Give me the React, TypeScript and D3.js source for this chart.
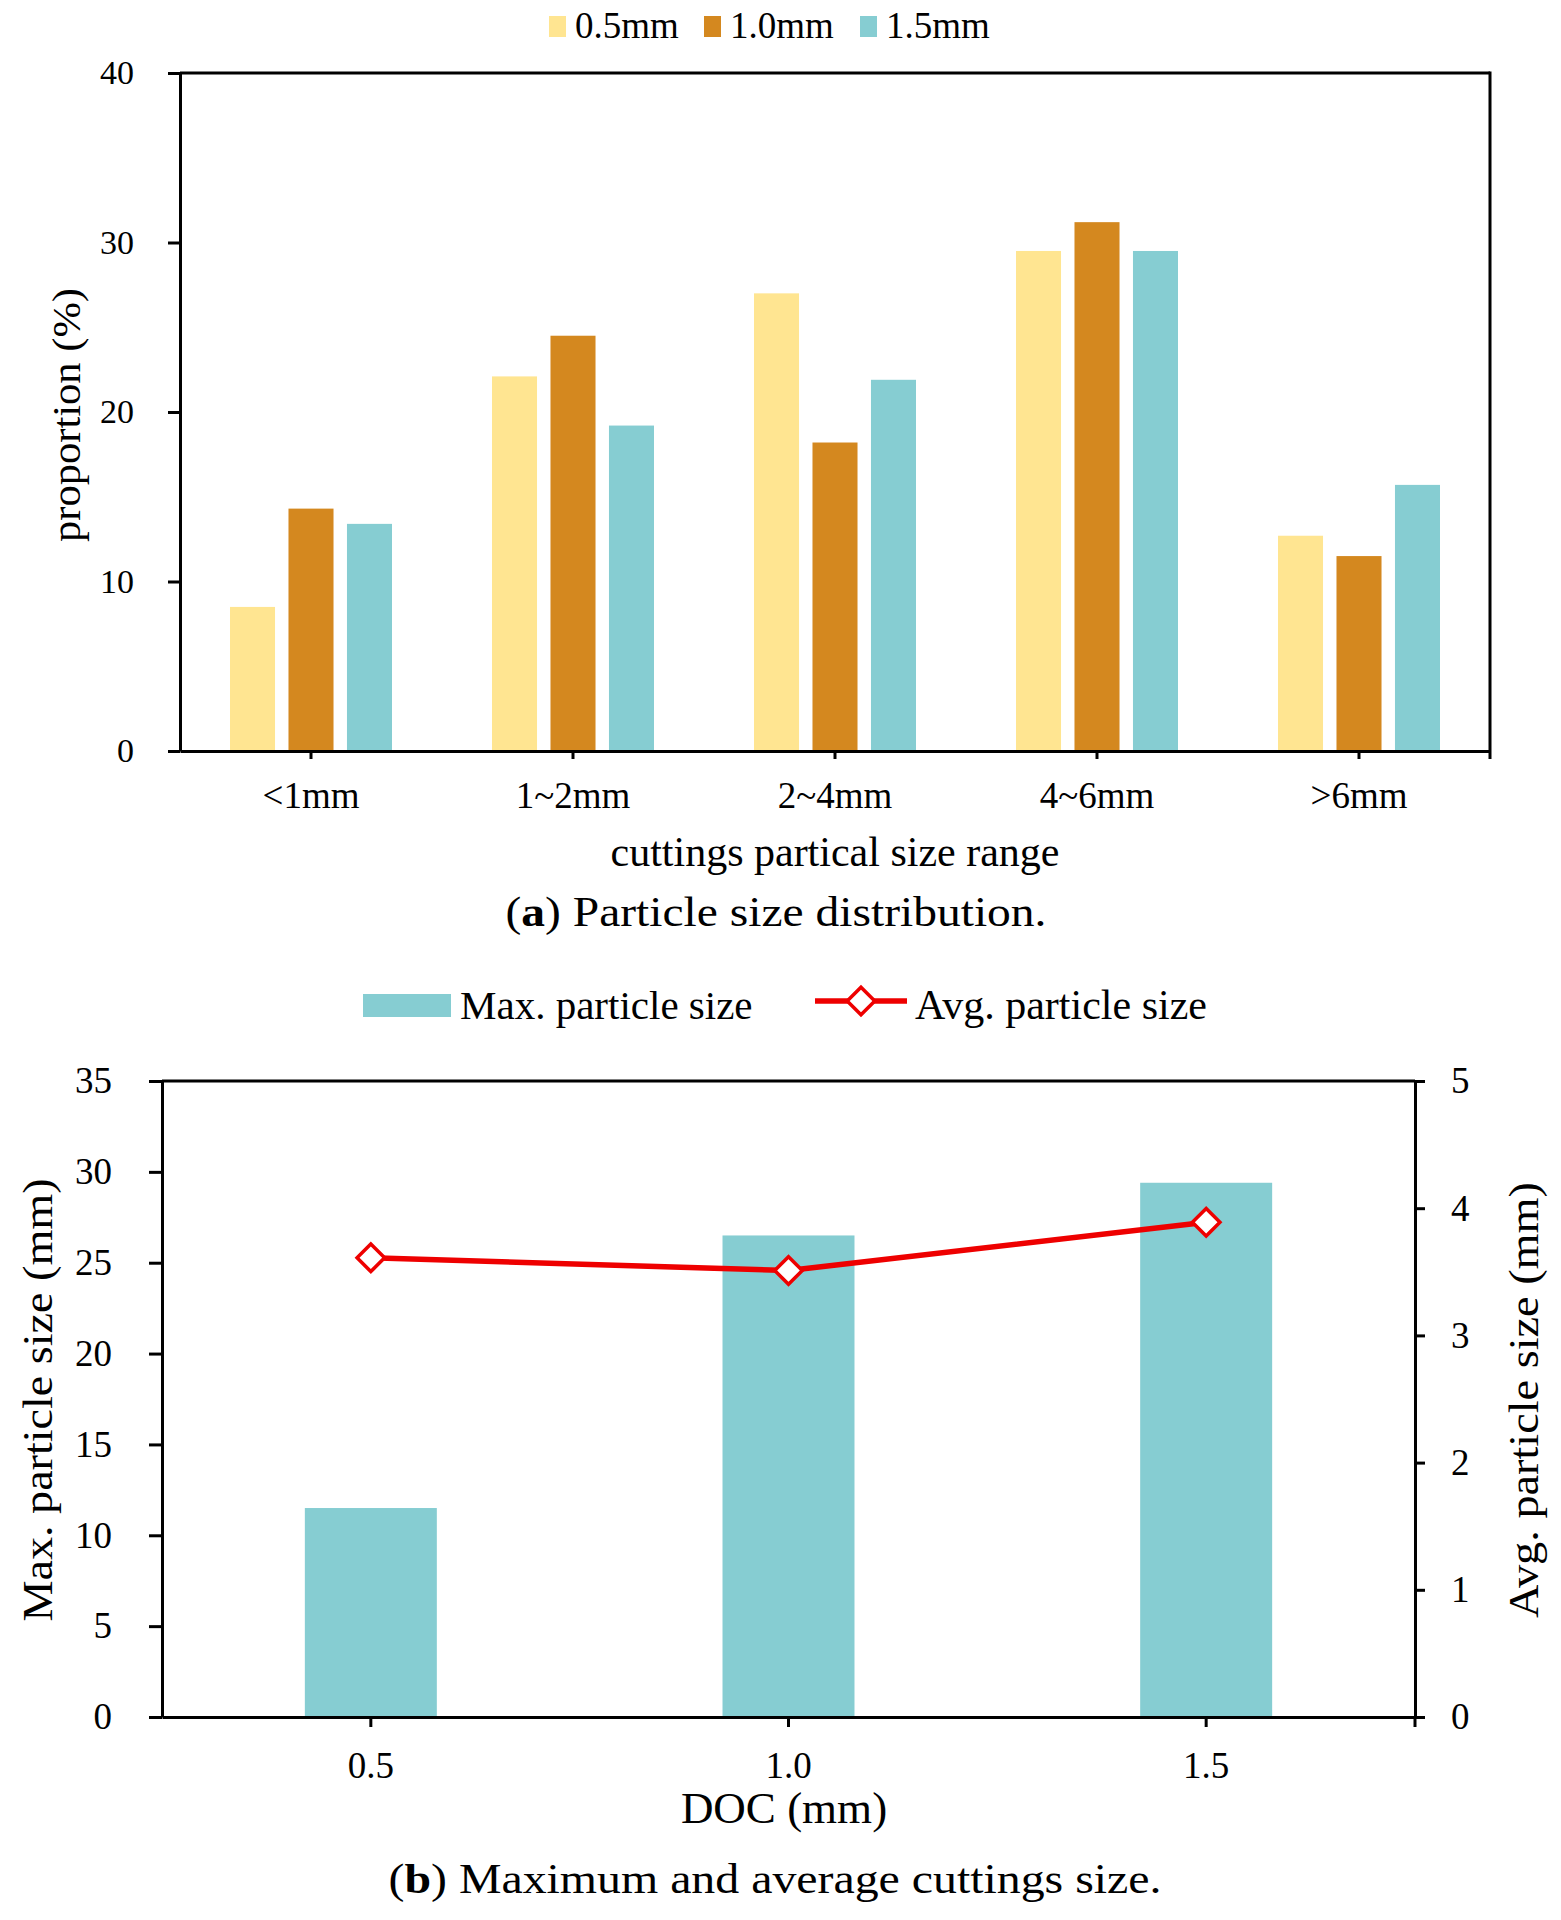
import { useEffect, useRef } from "react";
import * as d3 from "d3";

// (a) particle size distribution
const sizeRanges = ["<1mm", "1~2mm", "2~4mm", "4~6mm", ">6mm"];
const docSeries = ["0.5mm", "1.0mm", "1.5mm"];
const share05 = [8.5, 22.1, 27.0, 29.5, 12.7];
const share10 = [14.3, 24.5, 18.2, 31.2, 11.5];
const share15 = [13.4, 19.2, 21.9, 29.5, 15.7];
const shareTicks = [0, 10, 20, 30, 40];

// (b) max / avg cuttings size
const docLabels = ["0.5", "1.0", "1.5"];
const maxSize = [11.5, 26.5, 29.4];
const avgSize = [3.61, 3.51, 3.89];
const maxTicks = [0, 5, 10, 15, 20, 25, 30, 35];
const avgTicks = [0, 1, 2, 3, 4, 5];

const colors = ["#ffe591", "#d4881f", "#86cdd2"];
const red = "#ee0000";
const FONT = "'Liberation Serif', 'Times New Roman', serif";

const App = () => {
  const svgRef = useRef<SVGSVGElement | null>(null);

  useEffect(() => {
    if (!svgRef.current) return;
    const svg = d3.select(svgRef.current);
    svg.selectAll("*").remove();

    const styleAxis = (g: any, size: number) => {
      g.select(".domain").attr("stroke", "#000").attr("stroke-width", 3);
      g.selectAll(".tick line").attr("stroke", "#000").attr("stroke-width", 3);
      g.selectAll(".tick text")
        .attr("fill", "#000")
        .attr("font-family", FONT)
        .attr("font-size", size);
    };

    // ---------- chart (a) ----------
    const a = { left: 180, right: 1490, top: 73, bottom: 751 };
    const x0 = d3.scaleBand().domain(sizeRanges).range([a.left, a.right]);
    const x1 = d3
      .scaleBand()
      .domain(docSeries)
      .range([-81, 81])
      .paddingInner(0.23);
    const y = d3.scaleLinear().domain([0, 40]).range([a.bottom, a.top]);
    const shares = [share05, share10, share15];

    const ga = svg.append("g");
    docSeries.forEach((s, si) => {
      ga.append("g")
        .selectAll("rect")
        .data(shares[si])
        .join("rect")
        .attr("x", (_, i) => (x0(sizeRanges[i]) || 0) + x0.bandwidth() / 2 + (x1(s) || 0))
        .attr("y", d => y(d))
        .attr("width", x1.bandwidth())
        .attr("height", d => a.bottom - y(d))
        .attr("fill", colors[si]);
    });

    // frame
    ga.append("line")
      .attr("x1", a.left).attr("x2", a.right)
      .attr("y1", a.top).attr("y2", a.top)
      .attr("stroke", "#000").attr("stroke-width", 3);
    ga.append("line")
      .attr("x1", a.right).attr("x2", a.right)
      .attr("y1", a.top - 1.5).attr("y2", a.bottom + 8)
      .attr("stroke", "#000").attr("stroke-width", 3);

    ga.append("g")
      .attr("transform", `translate(${a.left},0)`)
      .call(d3.axisLeft(y).tickValues(shareTicks).tickSize(12).tickSizeOuter(0).tickPadding(34))
      .call(g => styleAxis(g, 34));

    ga.append("g")
      .attr("transform", `translate(0,${a.bottom})`)
      .call(d3.axisBottom(x0).tickSize(8).tickSizeOuter(0).tickPadding(23))
      .call(g => styleAxis(g, 37));

    ga.append("text")
      .attr("x", 835).attr("y", 866)
      .attr("text-anchor", "middle")
      .attr("font-family", FONT).attr("font-size", 42)
      .text("cuttings partical size range");

    ga.append("text")
      .attr("transform", "translate(80,415) rotate(-90)")
      .attr("text-anchor", "middle")
      .attr("font-family", FONT).attr("font-size", 40)
      .attr("textLength", 254).attr("lengthAdjust", "spacingAndGlyphs")
      .text("proportion (%)");

    // legend (a)
    const legA = [549, 704, 860];
    docSeries.forEach((s, i) => {
      ga.append("rect")
        .attr("x", legA[i]).attr("y", 16)
        .attr("width", 17).attr("height", 21)
        .attr("fill", colors[i]);
      ga.append("text")
        .attr("x", legA[i] + 26).attr("y", 38)
        .attr("font-family", FONT).attr("font-size", 37)
        .text(s);
    });

    const capA = ga.append("text")
      .attr("x", 776).attr("y", 926)
      .attr("text-anchor", "middle")
      .attr("font-family", FONT).attr("font-size", 42)
      .attr("textLength", 541).attr("lengthAdjust", "spacingAndGlyphs");
    capA.append("tspan").text("(");
    capA.append("tspan").attr("font-weight", "bold").text("a");
    capA.append("tspan").text(") Particle size distribution.");

    // ---------- chart (b) ----------
    const b = { left: 162, right: 1415, top: 1081, bottom: 1717 };
    const xb = d3.scaleBand().domain(docLabels).range([b.left, b.right]);
    const yL = d3.scaleLinear().domain([0, 35]).range([b.bottom, b.top]);
    const yR = d3.scaleLinear().domain([0, 5]).range([b.bottom, b.top]);
    const barW = xb.bandwidth() * 0.316;
    const cx = (i: number) => (xb(docLabels[i]) || 0) + xb.bandwidth() / 2;

    const gb = svg.append("g");
    gb.append("g")
      .selectAll("rect")
      .data(maxSize)
      .join("rect")
      .attr("x", (_, i) => cx(i) - barW / 2)
      .attr("y", d => yL(d))
      .attr("width", barW)
      .attr("height", d => b.bottom - yL(d))
      .attr("fill", colors[2]);

    gb.append("line")
      .attr("x1", b.left).attr("x2", b.right)
      .attr("y1", b.top).attr("y2", b.top)
      .attr("stroke", "#000").attr("stroke-width", 3);
    gb.append("line")
      .attr("x1", b.right).attr("x2", b.right)
      .attr("y1", b.bottom).attr("y2", b.bottom + 10)
      .attr("stroke", "#000").attr("stroke-width", 3);

    gb.append("g")
      .attr("transform", `translate(${b.left},0)`)
      .call(d3.axisLeft(yL).tickValues(maxTicks).tickSize(13).tickSizeOuter(0).tickPadding(37))
      .call(g => styleAxis(g, 37));

    gb.append("g")
      .attr("transform", `translate(${b.right},0)`)
      .call(
        d3.axisRight(yR)
          .tickValues(avgTicks)
          .tickFormat(d3.format("d"))
          .tickSize(10)
          .tickSizeOuter(0)
          .tickPadding(26)
      )
      .call(g => styleAxis(g, 37));

    gb.append("g")
      .attr("transform", `translate(0,${b.bottom})`)
      .call(d3.axisBottom(xb).tickSize(10).tickSizeOuter(0).tickPadding(25))
      .call(g => styleAxis(g, 37));

    // avg line
    const line = d3
      .line<number>()
      .x((_, i) => cx(i))
      .y(d => yR(d));
    gb.append("path")
      .datum(avgSize)
      .attr("d", line)
      .attr("fill", "none")
      .attr("stroke", red)
      .attr("stroke-width", 5.5);
    const diamond = d3.symbol(d3.symbolSquare, 380);
    gb.selectAll(".avg-dot")
      .data(avgSize)
      .join("path")
      .attr("class", "avg-dot")
      .attr("d", diamond)
      .attr("transform", (d, i) => `translate(${cx(i)},${yR(d)}) rotate(45)`)
      .attr("fill", "#fff")
      .attr("stroke", red)
      .attr("stroke-width", 3.5);

    gb.append("text")
      .attr("x", 784).attr("y", 1823)
      .attr("text-anchor", "middle")
      .attr("font-family", FONT).attr("font-size", 45)
      .text("DOC (mm)");

    gb.append("text")
      .attr("transform", "translate(52,1400) rotate(-90)")
      .attr("text-anchor", "middle")
      .attr("font-family", FONT).attr("font-size", 42)
      .attr("textLength", 443).attr("lengthAdjust", "spacingAndGlyphs")
      .text("Max. particle size (mm)");

    gb.append("text")
      .attr("transform", "translate(1538,1400) rotate(-90)")
      .attr("text-anchor", "middle")
      .attr("font-family", FONT).attr("font-size", 42)
      .attr("textLength", 436).attr("lengthAdjust", "spacingAndGlyphs")
      .text("Avg. particle size (mm)");

    // legend (b)
    gb.append("rect")
      .attr("x", 363).attr("y", 994)
      .attr("width", 88).attr("height", 23)
      .attr("fill", colors[2]);
    gb.append("text")
      .attr("x", 460).attr("y", 1019)
      .attr("font-family", FONT).attr("font-size", 41)
      .text("Max. particle size");
    gb.append("line")
      .attr("x1", 815).attr("x2", 907)
      .attr("y1", 1001).attr("y2", 1001)
      .attr("stroke", red).attr("stroke-width", 5.5);
    gb.append("path")
      .attr("d", diamond)
      .attr("transform", "translate(861,1001) rotate(45)")
      .attr("fill", "#fff")
      .attr("stroke", red)
      .attr("stroke-width", 3.5);
    gb.append("text")
      .attr("x", 915).attr("y", 1019)
      .attr("font-family", FONT).attr("font-size", 42)
      .text("Avg. particle size");

    const capB = gb.append("text")
      .attr("x", 775).attr("y", 1893)
      .attr("text-anchor", "middle")
      .attr("font-family", FONT).attr("font-size", 42)
      .attr("textLength", 773).attr("lengthAdjust", "spacingAndGlyphs");
    capB.append("tspan").text("(");
    capB.append("tspan").attr("font-weight", "bold").text("b");
    capB.append("tspan").text(") Maximum and average cuttings size.");
  }, []);

  return (
    <svg
      ref={svgRef}
      width={1561}
      height={1920}
      style={{ position: "absolute", left: 0, top: 0, background: "#fff" }}
    />
  );
};

export default App;
